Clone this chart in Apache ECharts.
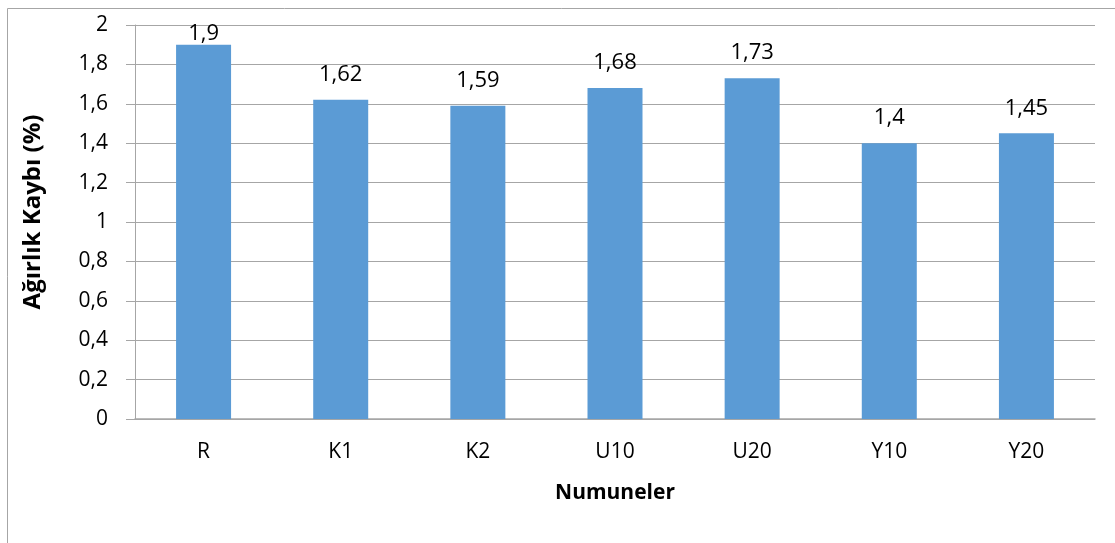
<!DOCTYPE html>
<html><head><meta charset="utf-8">
<script src="https://cdn.jsdelivr.net/npm/echarts@6/dist/echarts.min.js"></script>
<style>html,body{margin:0;padding:0;background:#fff}#c{width:1115px;height:543px}</style>
</head><body><div id="c"></div>
<script>
const categories = ['R','K1','K2','U10','U20','Y10','Y20'];
const values = [1.9, 1.62, 1.59, 1.68, 1.73, 1.4, 1.45];
const yTitle = 'Ağırlık Kaybı (%)';
const xTitle = 'Numuneler';
const fmt = v => String(v).replace('.', ',');
const chart = echarts.init(document.getElementById('c'));
// labels near the top of the value range are pushed down to stay inside the plot, as in the original
const barData = values.map(v => v > 1.8 ? {value: v, label: {distance: 0}} : v);
chart.setOption({
  animation: false,
  backgroundColor: '#fff',
  textStyle: {fontFamily: 'Open Sans'},
  graphic: [{type:'rect', shape:{x:7.5,y:8.5,width:1120,height:550}, style:{fill:'none', stroke:'#a6a6a6', lineWidth:1}, silent:true}],
  grid: {left: 135, right: 20, top: 25, bottom: 124},
  xAxis: {
    type: 'category', data: categories,
    axisLine: {lineStyle: {color: '#a6a6a6', width: 1.5}},
    axisTick: {show: false},
    axisLabel: {color: '#000', fontSize: 21, margin: 23, fontFamily: 'Open Sans'},
    name: xTitle, nameLocation: 'middle', nameGap: 64,
    nameTextStyle: {color: '#000', fontSize: 21, fontWeight: 'bold', fontFamily: 'Open Sans'}
  },
  yAxis: {
    type: 'value', min: 0, max: 2, interval: 0.2,
    axisLine: {show: true, lineStyle: {color: '#a6a6a6'}},
    axisTick: {show: true, length: 9, lineStyle: {color: '#a6a6a6'}},
    splitLine: {lineStyle: {color: '#a6a6a6'}},
    axisLabel: {color: '#000', fontSize: 21, margin: 27, fontFamily: 'Open Sans', formatter: v => fmt(Math.round(v*10)/10)},
    name: yTitle, nameLocation: 'middle', nameGap: 90, nameRotate: 90,
    nameTextStyle: {color: '#000', fontSize: 24, fontWeight: 'bold', fontFamily: 'Open Sans', padding: [0, 0, 0, 20]}
  },
  series: [{
    type: 'bar', data: barData, barWidth: 55,
    itemStyle: {color: '#5b9bd5'},
    label: {show: true, position: 'top', distance: 14, color: '#000', fontSize: 22, fontFamily: 'Open Sans', formatter: p => fmt(p.value)}
  }]
});
</script></body></html>
